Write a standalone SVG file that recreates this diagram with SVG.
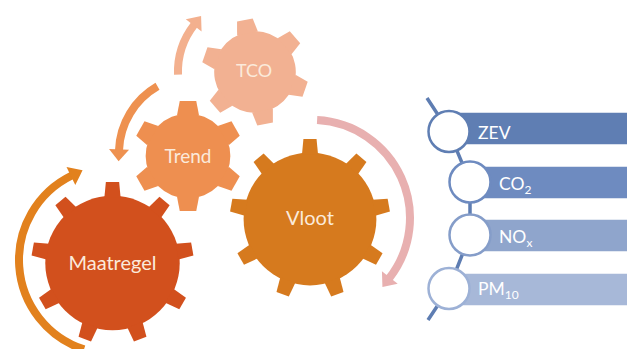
<svg xmlns="http://www.w3.org/2000/svg" width="627" height="349" viewBox="0 0 627 349">
<style>
.lbl{font-family:Lato,"Open Sans","Liberation Sans",sans-serif;fill:#FBEADB;text-anchor:middle}
.bt{font-family:Lato,"Open Sans","Liberation Sans",sans-serif;fill:#ffffff;font-size:17.5px}
.sub{font-size:12px}
.arc{fill:none;stroke-width:8}
.ring{fill:#ffffff;stroke-width:2.5}
.bar{stroke:#ffffff;stroke-opacity:0.5;stroke-width:1}
</style>
<defs>
<polygon id="t9" points="-10,-81 10,-81 8.2,-100 -8.2,-100"/>
<g id="gear9">
<circle r="83"/>
<use href="#t9"/><use href="#t9" transform="rotate(40)"/><use href="#t9" transform="rotate(80)"/>
<use href="#t9" transform="rotate(120)"/><use href="#t9" transform="rotate(160)"/><use href="#t9" transform="rotate(200)"/>
<use href="#t9" transform="rotate(240)"/><use href="#t9" transform="rotate(280)"/><use href="#t9" transform="rotate(320)"/>
</g>
<polygon id="t6" points="-20,-74 20,-74 15,-100 -15,-100"/>
<g id="gear6">
<circle r="77"/>
<use href="#t6"/><use href="#t6" transform="rotate(60)"/><use href="#t6" transform="rotate(120)"/>
<use href="#t6" transform="rotate(180)"/><use href="#t6" transform="rotate(240)"/><use href="#t6" transform="rotate(300)"/>
</g>
<marker id="hM" markerUnits="userSpaceOnUse" orient="auto" overflow="visible" markerWidth="1" markerHeight="1"><path d="M-1,-10 L12,0 L-1,10Z" fill="#E2811D"/></marker>
<marker id="hTr" markerUnits="userSpaceOnUse" orient="auto" overflow="visible" markerWidth="1" markerHeight="1"><path d="M-1,-10 L11,0 L-1,10Z" fill="#EE9150"/></marker>
<marker id="hTc" markerUnits="userSpaceOnUse" orient="auto" overflow="visible" markerWidth="1" markerHeight="1"><path d="M-1,-10 L11,0 L-1,10Z" fill="#F3B08E"/></marker>
<marker id="hV" markerUnits="userSpaceOnUse" orient="auto" overflow="visible" markerWidth="1" markerHeight="1"><path d="M-1,-10 L11,0 L-1,10Z" fill="#E8B0B0"/></marker>
</defs>
<rect width="627" height="349" fill="#ffffff"/>

<g id="connectors">
<path class="arc" stroke="#E2811D" marker-end="url(#hM)" d="M 84 349.4 A 94 94 0 0 1 71.8 175.5"/>
<path class="arc" stroke="#EE9150" marker-end="url(#hTr)" d="M 157.5 86.3 A 77 77 0 0 0 119 150.3"/>
<path class="arc" stroke="#F3B08E" marker-end="url(#hTc)" d="M 178 74.7 A 77 77 0 0 1 194.3 24.6"/>
<path class="arc" stroke="#E8B0B0" marker-end="url(#hV)" d="M 317.1 120.1 A 98 98 0 0 1 389.2 278.3"/>
<polyline fill="none" stroke="#5E7DB2" stroke-width="3.5" points="427,98 449,131.5 470,182 470,235 449,288.5 428,320"/>
</g>

<g id="node-tco">
<use href="#gear6" transform="translate(255,72) rotate(-11) scale(0.53)" fill="#F2B192"/>
<text class="lbl" x="254" y="77" font-size="18">TCO</text>
</g>
<g id="node-trend">
<use href="#gear6" transform="translate(188,156) scale(0.55)" fill="#EE8F50"/>
<text class="lbl" x="188" y="163" font-size="19">Trend</text>
</g>
<g id="node-vloot">
<use href="#gear9" transform="translate(310,219) scale(0.8)" fill="#D67A1E"/>
<text class="lbl" x="310" y="225" font-size="20">Vloot</text>
</g>
<g id="node-maatregel">
<use href="#gear9" transform="translate(112.5,263) scale(0.81)" fill="#D2501D"/>
<text class="lbl" x="112.5" y="270" font-size="20">Maatregel</text>
</g>

<g id="node-zev">
<rect class="bar" x="449" y="112.5" width="180" height="32" fill="#5F7EB3"/>
<circle class="ring" cx="449" cy="131.5" r="20.5" stroke="#5F7EB3"/>
<text class="bt" x="478" y="139">ZEV</text>
</g>
<g id="node-co2">
<rect class="bar" x="470" y="166.5" width="160" height="32" fill="#6E8BC0"/>
<circle class="ring" cx="470" cy="182" r="20.5" stroke="#6E8BC0"/>
<text class="bt" x="499" y="190">CO<tspan class="sub" dy="4">2</tspan></text>
</g>
<g id="node-nox">
<rect class="bar" x="470" y="219.5" width="160" height="32" fill="#8FA5CC"/>
<circle class="ring" cx="470" cy="235" r="20.5" stroke="#859DC9"/>
<text class="bt" x="499" y="242.5">NO<tspan class="sub" dy="4">x</tspan></text>
</g>
<g id="node-pm10">
<rect class="bar" x="449" y="273.5" width="180" height="32" fill="#A7B8D8"/>
<circle class="ring" cx="449" cy="288.5" r="20.5" stroke="#9DB1D6"/>
<text class="bt" x="478" y="295">PM<tspan class="sub" dy="4">10</tspan></text>
</g>
</svg>
